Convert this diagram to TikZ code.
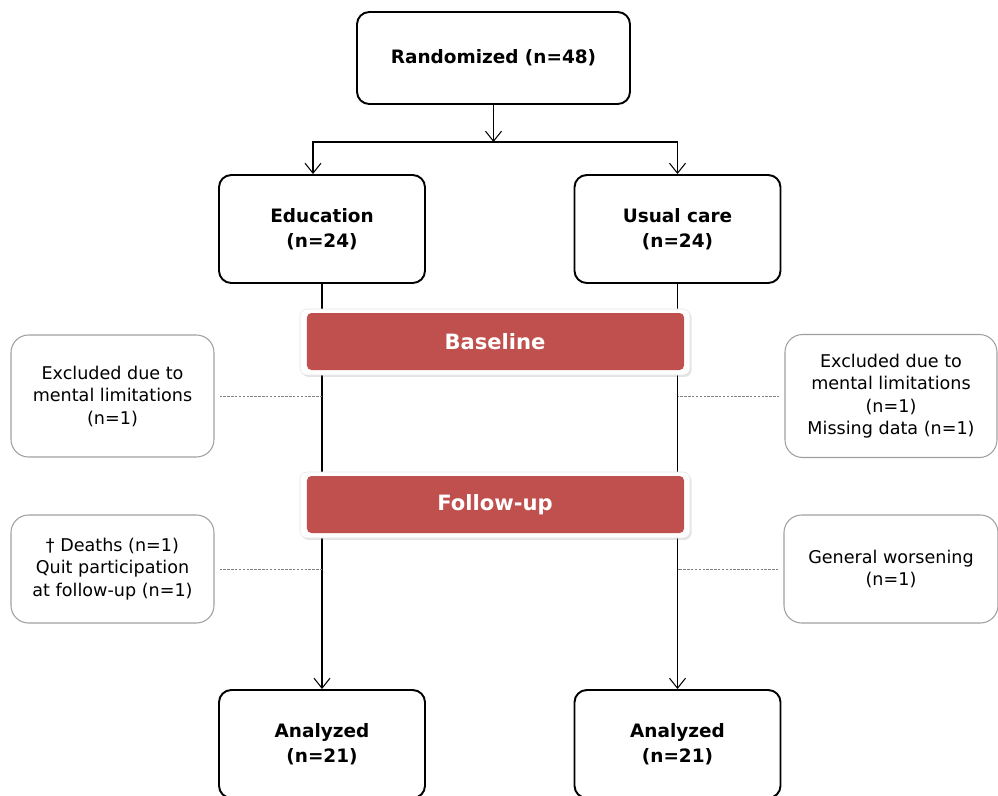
\documentclass[tikz,border=0pt]{standalone}
\usepackage{fontspec}
\setmainfont{DejaVu Sans}
\usetikzlibrary{arrows.meta,positioning,shadows}
\definecolor{bannerred}{HTML}{C0504D}
\tikzset{
  stagebox/.style={draw,rounded corners=7pt,line width=1.1pt,align=center,
                   minimum width=4.12cm,minimum height=2.16cm,
                   font=\bfseries\fontsize{10.5}{14.5}\selectfont},
  notebox/.style={draw=gray!75,rounded corners=10pt,line width=0.6pt,align=center,
                  minimum width=4.06cm,font=\fontsize{10}{12.8}\selectfont},
  banner/.style={fill=white,draw=black!10,line width=0.3pt,rounded corners=4pt,
                 minimum width=7.8cm,minimum height=1.32cm,text=white,
                 font=\bfseries\fontsize{12}{14}\selectfont,
                 drop shadow={opacity=0.22,shadow xshift=0.9pt,shadow yshift=-1.1pt},
                 path picture={\fill[bannerred,rounded corners=2.5pt]
                   ([shift={(1.4mm,-0.8mm)}]path picture bounding box.north west) rectangle
                   ([shift={(-1.2mm,1mm)}]path picture bounding box.south east);}},
  arrow/.style={-{Straight Barb[length=2mm,width=3.2mm]},line width=0.6pt},
  link/.style={draw=gray,line width=0.4pt,dash pattern=on 1.4pt off 0.8pt}
}

\begin{document}
\begin{tikzpicture}[x=0.2mm,y=-0.2mm]
  \clip (0,0) rectangle (998,796);
  % allocation
  \node[stagebox,minimum width=5.46cm,minimum height=1.84cm] (rand) at (493.5,58) {Randomized (n=48)};
  \node[stagebox] (edu) at (322,229) {Education\\(n=24)};
  \node[stagebox] (usual) at (677.5,229) {Usual care\\(n=24)};
  \node[stagebox] (anaL) at (322,744) {Analyzed\\(n=21)};
  \node[stagebox] (anaR) at (677.5,744) {Analyzed\\(n=21)};

  \coordinate (split) at (493.5,142);
  \draw[arrow] (rand) -- (split);
  \draw[arrow] (split) -| ([xshift=-1.8mm]edu.north);
  \draw[arrow] (split) -| (usual.north);
  \draw[arrow] (edu) -- (anaL);
  \draw[arrow] (usual) -- (anaR);

  % losses
  \node[notebox,minimum height=2.44cm] (exL) at (112.5,396) {Excluded due to\\mental limitations\\(n=1)};
  \node[notebox,minimum width=4.24cm,minimum height=2.46cm] (exR) at (891,396) {Excluded due to\\mental limitations\\(n=1)\\Missing data (n=1)};
  \node[notebox,minimum height=2.16cm] (lossL) at (112.5,569) {† Deaths (n=1)\\Quit participation\\at follow-up (n=1)};
  \node[notebox,minimum width=4.28cm,minimum height=2.16cm] (lossR) at (891,569) {General worsening\\(n=1)};

  \draw[link,shorten <=1mm] (exL.east) -- (exL.east -| edu);
  \draw[link,shorten <=1mm] (exR.west) -- (exR.west -| usual);
  \draw[link,shorten <=1mm] (lossL.east) -- (lossL.east -| edu);
  \draw[link,shorten <=1mm] (lossR.west) -- (lossR.west -| usual);

  % stages
  \node[banner] (base) at (495,342) {Baseline};
  \node[banner] (follow) at (495,505) {Follow-up};
\end{tikzpicture}
\end{document}
